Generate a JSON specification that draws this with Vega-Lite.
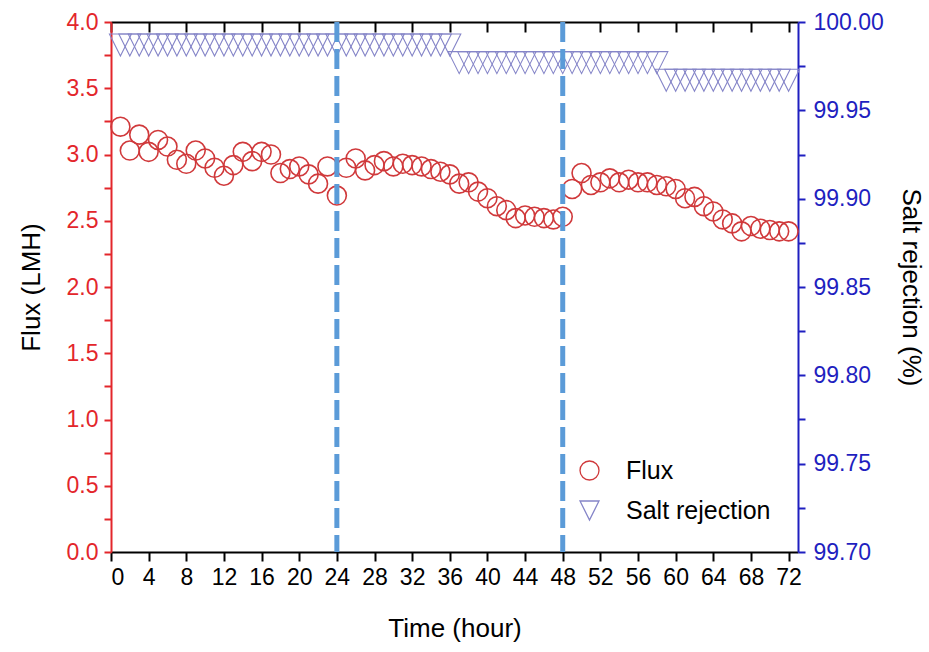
{
  "$schema": "https://vega.github.io/schema/vega-lite/v6.json",
  "autosize": {"type": "none"},
  "width": 687,
  "height": 530,
  "padding": {"left": 111, "top": 22, "right": 131, "bottom": 100},
  "background": "white",
  "config": {
    "view": {"stroke": null},
    "font": "Liberation Sans",
    "axis": {"grid": false, "labelFontSize": 23, "titleFontSize": 26, "titleFontWeight": "normal", "domainWidth": 2, "tickWidth": 2, "labelFont": "Liberation Sans", "titleFont": "Liberation Sans", "titleColor": "black"},
    "legend": {"labelFont": "Liberation Sans"}
  },
  "data": {"values": [
    {"t":1,"flux":3.21,"rej":99.987},{"t":2,"flux":3.03,"rej":99.987},{"t":3,"flux":3.15,"rej":99.987},{"t":4,"flux":3.02,"rej":99.987},
    {"t":5,"flux":3.11,"rej":99.987},{"t":6,"flux":3.06,"rej":99.987},{"t":7,"flux":2.96,"rej":99.987},{"t":8,"flux":2.93,"rej":99.987},
    {"t":9,"flux":3.03,"rej":99.987},{"t":10,"flux":2.97,"rej":99.987},{"t":11,"flux":2.90,"rej":99.987},{"t":12,"flux":2.84,"rej":99.987},
    {"t":13,"flux":2.92,"rej":99.987},{"t":14,"flux":3.02,"rej":99.987},{"t":15,"flux":2.95,"rej":99.987},{"t":16,"flux":3.02,"rej":99.987},
    {"t":17,"flux":3.00,"rej":99.987},{"t":18,"flux":2.86,"rej":99.987},{"t":19,"flux":2.89,"rej":99.987},{"t":20,"flux":2.91,"rej":99.987},
    {"t":21,"flux":2.85,"rej":99.987},{"t":22,"flux":2.78,"rej":99.987},{"t":23,"flux":2.91,"rej":99.987},{"t":24,"flux":2.69,"rej":99.987},
    {"t":25,"flux":2.90,"rej":99.987},{"t":26,"flux":2.97,"rej":99.987},{"t":27,"flux":2.88,"rej":99.987},{"t":28,"flux":2.92,"rej":99.987},
    {"t":29,"flux":2.95,"rej":99.987},{"t":30,"flux":2.91,"rej":99.987},{"t":31,"flux":2.93,"rej":99.987},{"t":32,"flux":2.92,"rej":99.987},
    {"t":33,"flux":2.91,"rej":99.987},{"t":34,"flux":2.89,"rej":99.987},{"t":35,"flux":2.87,"rej":99.987},{"t":36,"flux":2.85,"rej":99.987},
    {"t":37,"flux":2.78,"rej":99.977},{"t":38,"flux":2.79,"rej":99.977},{"t":39,"flux":2.72,"rej":99.977},{"t":40,"flux":2.67,"rej":99.977},
    {"t":41,"flux":2.61,"rej":99.977},{"t":42,"flux":2.58,"rej":99.977},{"t":43,"flux":2.52,"rej":99.977},{"t":44,"flux":2.54,"rej":99.977},
    {"t":45,"flux":2.53,"rej":99.977},{"t":46,"flux":2.52,"rej":99.977},{"t":47,"flux":2.51,"rej":99.977},{"t":48,"flux":2.53,"rej":99.977},
    {"t":49,"flux":2.74,"rej":99.977},{"t":50,"flux":2.86,"rej":99.977},{"t":51,"flux":2.77,"rej":99.977},{"t":52,"flux":2.79,"rej":99.977},
    {"t":53,"flux":2.82,"rej":99.977},{"t":54,"flux":2.79,"rej":99.977},{"t":55,"flux":2.81,"rej":99.977},{"t":56,"flux":2.79,"rej":99.977},
    {"t":57,"flux":2.79,"rej":99.977},{"t":58,"flux":2.77,"rej":99.977},{"t":59,"flux":2.76,"rej":99.967},{"t":60,"flux":2.74,"rej":99.967},
    {"t":61,"flux":2.67,"rej":99.967},{"t":62,"flux":2.68,"rej":99.967},{"t":63,"flux":2.61,"rej":99.967},{"t":64,"flux":2.57,"rej":99.967},
    {"t":65,"flux":2.51,"rej":99.967},{"t":66,"flux":2.48,"rej":99.967},{"t":67,"flux":2.42,"rej":99.967},{"t":68,"flux":2.46,"rej":99.967},
    {"t":69,"flux":2.44,"rej":99.967},{"t":70,"flux":2.43,"rej":99.967},{"t":71,"flux":2.42,"rej":99.967},{"t":72,"flux":2.42,"rej":99.967}
  ]},
  "layer": [
    {
      "mark": {"type": "point", "filled": false, "strokeWidth": 1.6, "size": 360, "opacity": 1},
      "encoding": {
        "x": {"field": "t", "type": "quantitative", "scale": {"domain": [0, 73], "nice": false},
          "axis": {"orient": "bottom", "values": [0,4,8,12,16,20,24,28,32,36,40,44,48,52,56,60,64,68,72], "title": "Time (hour)", "domainColor": "black", "tickColor": "black", "tickSize": 9, "labelColor": "black", "labelPadding": 5, "titlePadding": 26}},
        "y": {"field": "flux", "type": "quantitative", "scale": {"domain": [0, 4], "nice": false},
          "axis": {"orient": "left", "title": "Flux (LMH)", "values": [0,0.25,0.5,0.75,1,1.25,1.5,1.75,2,2.25,2.5,2.75,3,3.25,3.5,3.75,4],
            "labelExpr": "round(datum.value*100) % 50 == 0 ? format(datum.value, '.1f') : ''",
            "domainColor": "#e3262b", "tickColor": "#e3262b", "labelColor": "#e3262b", "tickSize": 7, "labelPadding": 6, "titlePadding": 22, "labelOverlap": false}},
        "shape": {"datum": "Flux", "type": "nominal", "scale": {"domain": ["Flux", "Salt rejection"], "range": ["circle", "M-1,-1L1,-1L0,1Z"]},
          "legend": {"title": null, "orient": "none", "legendX": 466, "legendY": 436, "labelFontSize": 25, "symbolSize": 360, "symbolStrokeWidth": 1.3, "rowPadding": 14, "labelOffset": 24, "symbolFillColor": "transparent", "labelColor": "black"}},
        "color": {"datum": "Flux", "type": "nominal", "scale": {"domain": ["Flux", "Salt rejection"], "range": ["#d0393b", "#8585c8"]},
          "legend": {"title": null, "orient": "none", "legendX": 466, "legendY": 436, "labelFontSize": 25, "symbolSize": 360, "symbolStrokeWidth": 1.3, "rowPadding": 14, "labelOffset": 24, "symbolFillColor": "transparent", "labelColor": "black"}}
      }
    },
    {
      "mark": {"type": "point", "filled": false, "strokeWidth": 1.1, "size": 484, "opacity": 1},
      "encoding": {
        "x": {"field": "t", "type": "quantitative", "axis": null},
        "y": {"field": "rej", "type": "quantitative", "scale": {"domain": [99.7, 100], "nice": false, "zero": false},
          "axis": {"orient": "right", "title": "Salt rejection (%)", "values": [99.7,99.725,99.75,99.775,99.8,99.825,99.85,99.875,99.9,99.925,99.95,99.975,100],
            "labelExpr": "round(datum.value*1000) % 50 == 0 ? format(datum.value, '.2f') : ''",
            "domainColor": "#1f1fc0", "tickColor": "#1f1fc0", "labelColor": "#1f1fc0", "tickSize": 7, "labelPadding": 8, "titlePadding": 14, "labelOverlap": false}},
        "shape": {"datum": "Salt rejection", "type": "nominal"},
        "color": {"datum": "Salt rejection", "type": "nominal"}
      }
    },
    {
      "data": {"values": [{"t": 24}, {"t": 48}]},
      "mark": {"type": "rule", "color": "#5b9bd8", "strokeWidth": 5, "strokeDash": [20, 7]},
      "encoding": {
        "x": {"field": "t", "type": "quantitative",
          "axis": {"orient": "top", "values": [0,4,8,12,16,20,24,28,32,36,40,44,48,52,56,60,64,68,72], "labels": false, "title": null, "domainColor": "black", "tickColor": "black", "tickSize": -10}}
      }
    }
  ],
  "resolve": {"scale": {"y": "independent"}, "axis": {"x": "independent"}}
}
